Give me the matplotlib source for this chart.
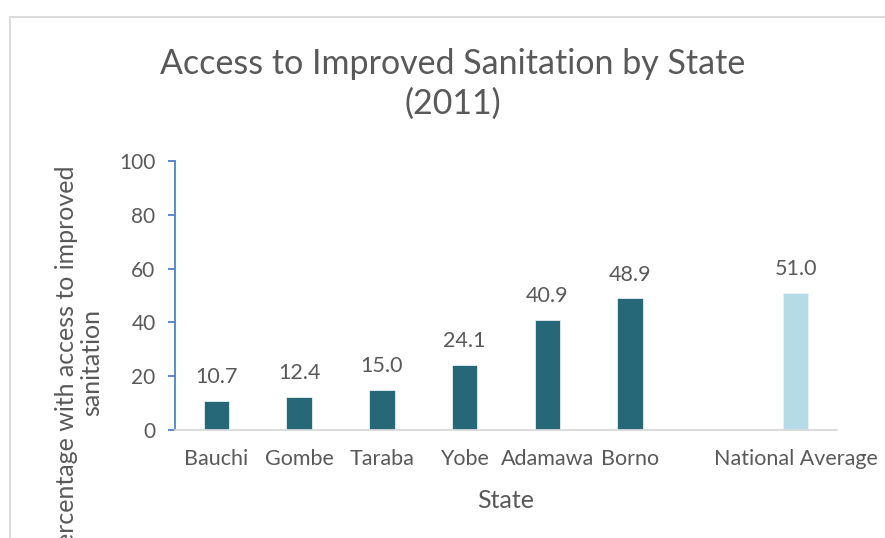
import matplotlib
matplotlib.use("Agg")
import matplotlib.pyplot as plt
from matplotlib.patches import Rectangle

# Data
states = ["Bauchi", "Gombe", "Taraba", "Yobe", "Adamawa", "Borno", "", "National Average"]
values = [10.7, 12.4, 15.0, 24.1, 40.9, 48.9, None, 51.0]
bar_colors = ["#276878", "#276878", "#276878", "#276878", "#276878", "#276878", None, "#B5DCE6"]
y_ticks = [0, 20, 40, 60, 80, 100]

title = "Access to Improved Sanitation by State\n(2011)"
x_title = "State"
y_title = "Percentage with access to improved\nsanitation"

TEXT = "#595959"
plt.rcParams["font.family"] = ["Lato", "DejaVu Sans"]

W, H = 885, 538
fig = plt.figure(figsize=(W / 100, H / 100), dpi=100)

# chart area border
fig.patches.append(Rectangle((10 / W, -0.2), 1.2, 1.2 - 17 / H,
                             transform=fig.transFigure, fill=False,
                             edgecolor="#D9D9D9", linewidth=1.3))

ax = fig.add_axes([175 / W, 1 - 430 / H, (837 - 175) / W, (430 - 161) / H])

x = list(range(len(states)))
for xi, v, c in zip(x, values, bar_colors):
    if v is None:
        continue
    ax.bar(xi, v, width=0.31, color=c, edgecolor="#E8F1F3", linewidth=0.6, zorder=2)
    ax.annotate(f"{v:.1f}", (xi, v), xytext=(0, 10), textcoords="offset points",
                ha="center", va="bottom", fontsize=15.5, color=TEXT)

ax.set_xlim(-0.5, len(states) - 0.5)
ax.set_ylim(0, 100)
ax.set_xticks(x)
ax.set_xticklabels(states)
ax.set_yticks(y_ticks)

for s in ["top", "right"]:
    ax.spines[s].set_visible(False)
ax.spines["left"].set_color("#4F81C7")
ax.spines["left"].set_linewidth(1.3)
ax.spines["bottom"].set_color("#D9D9D9")
ax.spines["bottom"].set_linewidth(1.3)

ax.tick_params(axis="y", direction="out", length=5, width=1.3, color="#4F81C7",
               labelsize=15, labelcolor=TEXT, pad=9)
ax.tick_params(axis="x", length=0, labelsize=15.5, labelcolor=TEXT, pad=14)

fig.text(453 / W, 1 - 84 / H, title, ha="center", va="center", fontsize=24.5,
         color=TEXT, linespacing=1.3)
fig.text(506 / W, 1 - 500 / H, x_title, ha="center", va="center", fontsize=18,
         color=TEXT)
fig.text(79 / W, 1 - 363 / H, y_title, ha="center", va="center", rotation=90,
         fontsize=18, color=TEXT, multialignment="center", linespacing=1.15)

fig.savefig("out.png", dpi=100)
